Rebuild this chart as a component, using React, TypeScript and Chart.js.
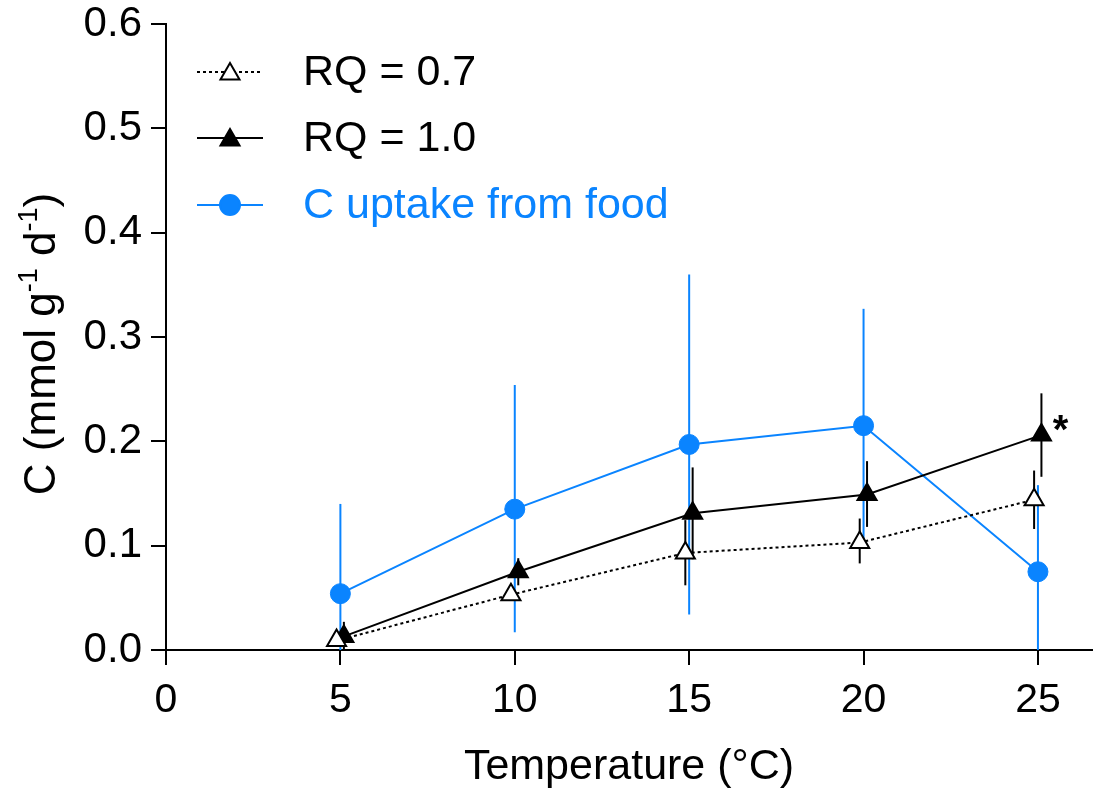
import React, { useEffect, useRef } from "react";
import { Chart, registerables } from "chart.js";

Chart.register(...registerables);

// ---- data ----
const temperatures = [5, 10, 15, 20, 25];

const rq07Values = [0.009, 0.053, 0.093, 0.103, 0.144];
const rq07Low = [0.006, 0.048, 0.062, 0.083, 0.116];
const rq07High = [0.012, 0.058, 0.1245, 0.126, 0.172];

const rq10Values = [0.013, 0.075, 0.131, 0.149, 0.206];
const rq10Low = [0.0, 0.062, 0.087, 0.118, 0.166];
const rq10High = [0.027, 0.088, 0.175, 0.181, 0.246];

const foodValues = [0.054, 0.135, 0.197, 0.215, 0.075];
const foodLow = [0.0, 0.017, 0.034, 0.105, 0.0];
const foodHigh = [0.14, 0.254, 0.36, 0.327, 0.158];

const xTickValues = [0, 5, 10, 15, 20, 25];
const yTickValues = [0, 0.1, 0.2, 0.3, 0.4, 0.5, 0.6];

const seriesLabels = ["RQ = 0.7", "RQ = 1.0", "C uptake from food"];
const xTitle = "Temperature (°C)";
// y title pieces: [text, isSuperscript]
const yTitleParts: [string, boolean][] = [
  ["C (mmol g", false],
  ["-1", true],
  [" d", false],
  ["-1", true],
  [")", false],
];
const significanceMark = "*";

// ---- styling ----
const BLUE = "#0a84ff";
const BLACK = "#000000";
const FONT = "'Liberation Sans', Arial, sans-serif";
const X_SHIFT_RQ07 = -0.11;
const X_SHIFT_RQ10 = 0.1;
const W = 1093;
const H = 789;

const errorBarPlugin = {
  id: "errorBars",
  beforeDatasetsDraw(chart: any) {
    const ctx = chart.ctx;
    const xs = chart.scales.x;
    const ys = chart.scales.y;
    chart.data.datasets.forEach((ds: any) => {
      ctx.save();
      ctx.strokeStyle = ds.borderColor;
      ctx.lineWidth = 2;
      ds.data.forEach((p: any, i: number) => {
        const x = xs.getPixelForValue(p.x);
        ctx.beginPath();
        ctx.moveTo(x, ys.getPixelForValue(ds.errLow[i]));
        ctx.lineTo(x, ys.getPixelForValue(ds.errHigh[i]));
        ctx.stroke();
      });
      ctx.restore();
    });
  },
};

function drawMarker(ctx: CanvasRenderingContext2D, style: string, x: number, y: number, r: number, fill: string, stroke: string) {
  ctx.save();
  ctx.setLineDash([]);
  ctx.lineWidth = 2;
  ctx.fillStyle = fill;
  ctx.strokeStyle = stroke;
  ctx.beginPath();
  if (style === "triangle") {
    ctx.moveTo(x, y - r);
    ctx.lineTo(x + 0.866 * r, y + r / 2);
    ctx.lineTo(x - 0.866 * r, y + r / 2);
    ctx.closePath();
  } else {
    ctx.arc(x, y, r, 0, Math.PI * 2);
  }
  ctx.fill();
  ctx.stroke();
  ctx.restore();
}

const legendPlugin = {
  id: "insideLegend",
  afterDraw(chart: any) {
    const ctx = chart.ctx;
    const rowY = [72, 138, 205];
    const lineX0 = 197;
    const lineX1 = 263;
    const markerX = 230;
    const textX = 303;
    chart.data.datasets.forEach((ds: any, i: number) => {
      const y = rowY[i];
      ctx.save();
      ctx.strokeStyle = ds.borderColor;
      ctx.lineWidth = ds.borderWidth;
      ctx.setLineDash(ds.borderDash || []);
      ctx.beginPath();
      ctx.moveTo(lineX0, y);
      ctx.lineTo(lineX1, y);
      ctx.stroke();
      ctx.restore();
      drawMarker(ctx, ds.pointStyle, markerX, y + (ds.pointStyle === "triangle" ? 2 : 0), ds.pointRadius, ds.pointBackgroundColor, ds.pointBorderColor);
      ctx.save();
      ctx.fillStyle = ds.legendTextColor;
      ctx.font = `43px ${FONT}`;
      ctx.textBaseline = "middle";
      ctx.textAlign = "left";
      ctx.fillText(ds.label, textX, y + 1);
      ctx.restore();
    });
  },
};

const yTitlePlugin = {
  id: "yTitleSup",
  afterDraw(chart: any) {
    const ctx = chart.ctx;
    const size = 44;
    const supSize = 27;
    const capCenterX = 39;
    const centerY = 344;
    ctx.save();
    const widths = yTitleParts.map(([t, sup]) => {
      ctx.font = `${sup ? supSize : size}px ${FONT}`;
      return ctx.measureText(t).width;
    });
    const total = widths.reduce((a, b) => a + b, 0);
    ctx.translate(capCenterX, centerY);
    ctx.rotate(-Math.PI / 2);
    ctx.fillStyle = BLACK;
    ctx.textAlign = "left";
    ctx.textBaseline = "alphabetic";
    const baseline = 0.358 * size;
    let u = -total / 2;
    yTitleParts.forEach(([t, sup], i) => {
      ctx.font = `${sup ? supSize : size}px ${FONT}`;
      ctx.fillText(t, u, sup ? baseline - 0.4 * size : baseline);
      u += widths[i];
    });
    ctx.restore();
  },
};

const starPlugin = {
  id: "significance",
  afterDatasetsDraw(chart: any) {
    const meta = chart.getDatasetMeta(1);
    const pt = meta.data[meta.data.length - 1];
    if (!pt) return;
    const ctx = chart.ctx;
    ctx.save();
    ctx.fillStyle = BLACK;
    ctx.font = `bold 40px ${FONT}`;
    ctx.textAlign = "center";
    ctx.textBaseline = "alphabetic";
    ctx.fillText(significanceMark, pt.x + 19, pt.y + 8);
    ctx.restore();
  },
};

export default function App() {
  const canvasRef = useRef<HTMLCanvasElement | null>(null);

  useEffect(() => {
    if (!canvasRef.current) return;
    const mk = (vals: number[], shift: number) => temperatures.map((t, i) => ({ x: t + shift, y: vals[i] }));
    const chart = new Chart(canvasRef.current, {
      type: "line",
      data: {
        datasets: [
          {
            label: seriesLabels[0],
            data: mk(rq07Values, X_SHIFT_RQ07),
            errLow: rq07Low,
            errHigh: rq07High,
            borderColor: BLACK,
            borderWidth: 2,
            borderDash: [3, 3],
            pointStyle: "triangle",
            pointRadius: 11,
            pointBackgroundColor: "#ffffff",
            pointBorderColor: BLACK,
            pointBorderWidth: 2,
            legendTextColor: BLACK,
            order: 1,
            tension: 0,
          } as any,
          {
            label: seriesLabels[1],
            data: mk(rq10Values, X_SHIFT_RQ10),
            errLow: rq10Low,
            errHigh: rq10High,
            borderColor: BLACK,
            borderWidth: 2,
            pointStyle: "triangle",
            pointRadius: 11,
            pointBackgroundColor: BLACK,
            pointBorderColor: BLACK,
            pointBorderWidth: 2,
            legendTextColor: BLACK,
            order: 2,
            tension: 0,
          } as any,
          {
            label: seriesLabels[2],
            data: mk(foodValues, 0),
            errLow: foodLow,
            errHigh: foodHigh,
            borderColor: BLUE,
            borderWidth: 2,
            pointStyle: "circle",
            pointRadius: 10,
            pointBackgroundColor: BLUE,
            pointBorderColor: BLUE,
            pointBorderWidth: 1,
            legendTextColor: BLUE,
            order: 3,
            tension: 0,
          } as any,
        ],
      },
      options: {
        animation: false,
        responsive: false,
        maintainAspectRatio: false,
        devicePixelRatio: 1,
        layout: { autoPadding: false, padding: { top: 24, right: 1, bottom: 0, left: 0 } },
        plugins: { legend: { display: false }, tooltip: { enabled: false } },
        scales: {
          x: {
            type: "linear",
            min: 0,
            max: 26.55,
            afterBuildTicks: (s: any) => {
              s.ticks = xTickValues.map((v) => ({ value: v }));
            },
            afterFit: (s: any) => {
              s.height = 139;
              s.paddingLeft = 0;
              s.paddingRight = 0;
            },
            grid: { display: true, drawOnChartArea: false, drawTicks: true, tickLength: 15, color: BLACK, lineWidth: 2 },
            border: { display: true, color: BLACK, width: 2 },
            ticks: {
              color: BLACK,
              font: { family: FONT, size: 41 },
              padding: 11,
              maxRotation: 0,
              autoSkip: false,
              callback: (v: any) => String(v),
            },
            title: {
              display: true,
              text: xTitle,
              color: BLACK,
              font: { family: FONT, size: 43, lineHeight: 1 },
              padding: { top: 0, bottom: 0 },
            },
          },
          y: {
            type: "linear",
            min: 0,
            max: 0.6,
            afterBuildTicks: (s: any) => {
              s.ticks = yTickValues.map((v) => ({ value: v }));
            },
            afterFit: (s: any) => {
              s.width = 166;
              s.paddingTop = 0;
              s.paddingBottom = 0;
            },
            grid: { display: true, drawOnChartArea: false, drawTicks: true, tickLength: 15, color: BLACK, lineWidth: 2 },
            border: { display: true, color: BLACK, width: 2 },
            ticks: {
              color: BLACK,
              font: { family: FONT, size: 42, lineHeight: 1 },
              padding: 9,
              autoSkip: false,
              callback: (v: any) => Number(v).toFixed(1),
            },
            title: { display: false },
          },
        },
      },
      plugins: [errorBarPlugin, legendPlugin, yTitlePlugin, starPlugin],
    } as any);
    return () => chart.destroy();
  }, []);

  return (
    <div style={{ position: "fixed", left: 0, top: 0, width: W, height: H, background: "#fff" }}>
      <canvas ref={canvasRef} width={W} height={H} style={{ display: "block", width: W, height: H }} />
    </div>
  );
}
